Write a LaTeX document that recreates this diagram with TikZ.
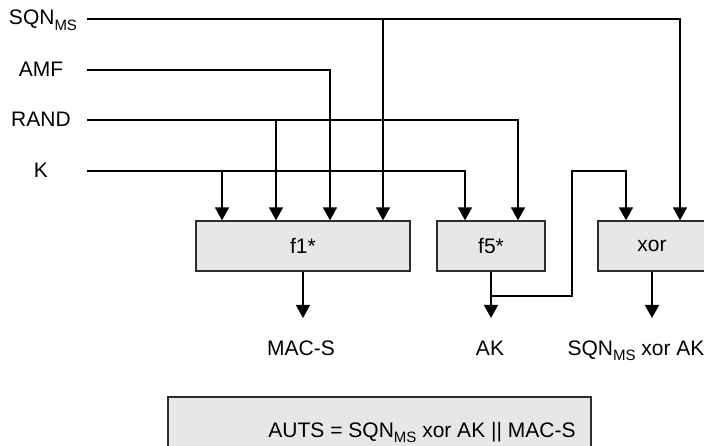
\documentclass[tikz,border=0pt]{standalone}
\usepackage{fontspec}
\setmainfont{Liberation Sans}
\usetikzlibrary{arrows.meta}
\definecolor{boxfill}{RGB}{230,231,232}
\definecolor{boxline}{RGB}{45,45,45}
\newcommand\subms{\raisebox{-5.5pt}{\fontsize{15}{15}\selectfont MS}}
\begin{document}
\begin{tikzpicture}[x=1pt,y=-1pt,
  font=\fontsize{21}{25}\selectfont,
  wire/.style={line width=1.6pt,black},
  arr/.style={wire,-{Triangle[width=14pt,length=13pt]}},
  fbox/.style={draw=boxline,line width=1.3pt,fill=boxfill,minimum height=50pt,inner sep=0pt,anchor=center},
  lbl/.style={inner sep=0pt,anchor=base}]
\useasboundingbox (0,0) rectangle (704,446);
% input labels
\node[lbl] (lsqn) at (43,25) {SQN\subms};
\node[lbl] (lamf) at (41,77) {AMF};
\node[lbl] (lrand) at (41,127) {RAND};
\node[lbl] (lk) at (41,178) {K};
% line starts
\coordinate (s0) at (87,19);
\coordinate (a0) at (87,70);
\coordinate (r0) at (87,120);
\coordinate (k0) at (87,171);
% boxes
\node[fbox,minimum width=214pt] (f1) at (303,246) {f1*};
\node[fbox,minimum width=108pt] (f5) at (491,246) {f5*};
\node[fbox,minimum width=108pt] (xor) at (652,246) {xor};
% junction points
\coordinate (js) at (383,19);
\coordinate (jr) at (276,120);
\coordinate (jk) at (222,171);
\coordinate (jak) at (491,296);
\coordinate (up) at (572,171);
% output ends
\coordinate (o1) at (303,318);
\coordinate (o5) at (491,318);
\coordinate (ox) at (652,318);
% output labels
\node[lbl] (mac) at (301,355) {MAC-S};
\node[lbl] (ak) at (490,355) {AK};
\node[lbl] (sx) at (636,355) {SQN\subms{} xor AK};
% bottom box
\path[draw=boxline,line width=1.3pt,fill=boxfill] (168,397) rectangle (591,470);
\node[lbl] (auts) at (422,437) {AUTS = SQN\subms{} xor AK || MAC-S};
% connectors
\draw[arr] (s0) -| ([xshift=28pt]xor.north);
\draw[arr] (js) -- (js |- f1.north);
\draw[arr] (a0) -| ([xshift=27pt]f1.north);
\draw[arr] (r0) -| ([xshift=27pt]f5.north);
\draw[arr] (jr) -- (jr |- f1.north);
\draw[arr] (k0) -| ([xshift=-26pt]f5.north);
\draw[arr] (jk) -- (jk |- f1.north);
\draw[arr] (f1.south) -- (o1);
\draw[arr] (f5.south) -- (o5);
\draw[arr] (xor.south) -- (ox);
\draw[arr] (jak) -| (up) -| ([xshift=-26pt]xor.north);
\end{tikzpicture}
\end{document}
